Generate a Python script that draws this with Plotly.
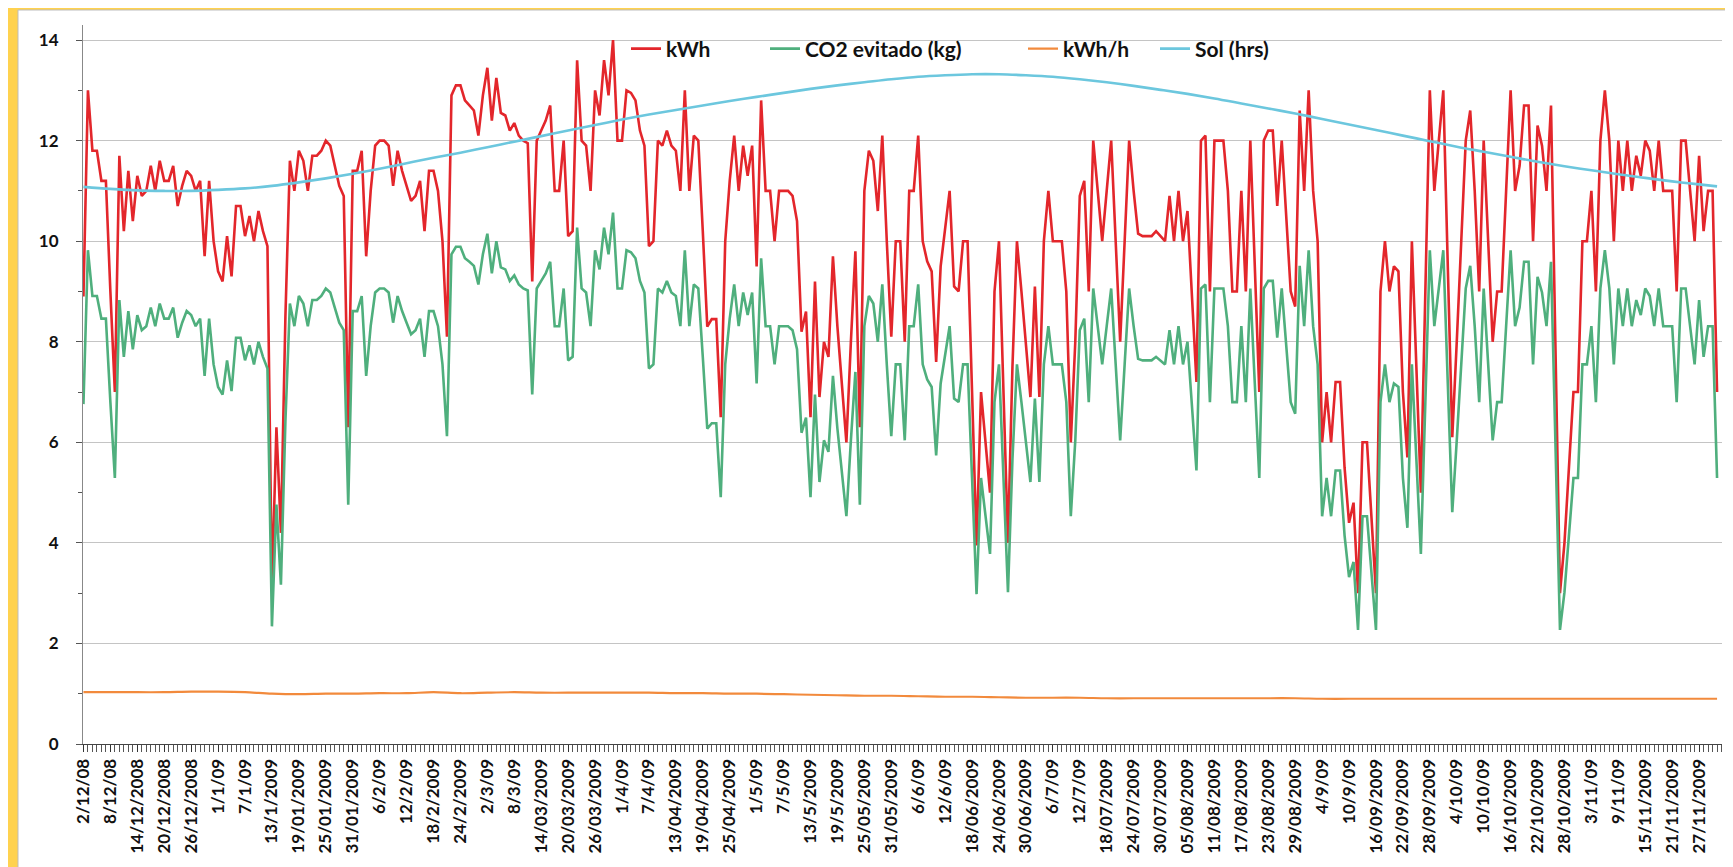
import plotly.graph_objects as go

# ---------------- data ----------------
tick_labels = [
    "2/12/08", "8/12/08", "14/12/2008", "20/12/2008", "26/12/2008", "1/1/09", "7/1/09",
    "13/1/2009", "19/01/2009", "25/01/2009", "31/01/2009", "6/2/09", "12/2/09", "18/2/2009",
    "24/2/2009", "2/3/09", "8/3/09", "14/03/2009", "20/03/2009", "26/03/2009", "1/4/09",
    "7/4/09", "13/04/2009", "19/04/2009", "25/04/2009", "1/5/09", "7/5/09", "13/5/2009",
    "19/5/2009", "25/05/2009", "31/05/2009", "6/6/09", "12/6/09", "18/06/2009", "24/06/2009",
    "30/06/2009", "6/7/09", "12/7/09", "18/07/2009", "24/07/2009", "30/07/2009", "05/08/2009",
    "11/08/2009", "17/08/2009", "23/08/2009", "29/08/2009", "4/9/09", "10/9/09", "16/09/2009",
    "22/09/2009", "28/09/2009", "4/10/09", "10/10/09", "16/10/2009", "22/10/2009",
    "28/10/2009", "3/11/09", "9/11/09", "15/11/2009", "21/11/2009", "27/11/2009",
]

kwh = [
    8.9, 13.0, 11.8, 11.8, 11.2, 11.2, 9.0, 7.0, 11.7, 10.2,
    11.4, 10.4, 11.3, 10.9, 11.0, 11.5, 11.0, 11.6, 11.2, 11.2,
    11.5, 10.7, 11.1, 11.4, 11.3, 11.0, 11.2, 9.7, 11.2, 10.0,
    9.4, 9.2, 10.1, 9.3, 10.7, 10.7, 10.1, 10.5, 10.0, 10.6,
    10.2, 9.9, 3.1, 6.3, 4.2, 8.5, 11.6, 11.0, 11.8, 11.6,
    11.0, 11.7, 11.7, 11.8, 12.0, 11.9, 11.5, 11.1, 10.9, 6.3,
    11.4, 11.4, 11.8, 9.7, 11.0, 11.9, 12.0, 12.0, 11.9, 11.1,
    11.8, 11.4, 11.1, 10.8, 10.9, 11.2, 10.2, 11.4, 11.4, 11.0,
    10.0, 8.1, 12.9, 13.1, 13.1, 12.8, 12.7, 12.6, 12.1, 12.9,
    13.45, 12.4, 13.25, 12.55, 12.5, 12.2, 12.35, 12.1, 12.0, 11.95,
    9.2, 12.0, 12.2, 12.4, 12.7, 11.0, 11.0, 12.0, 10.1, 10.2,
    13.6, 12.0, 11.9, 11.0, 13.0, 12.5, 13.6, 12.9, 14.0, 12.0,
    12.0, 13.0, 12.95, 12.8, 12.2, 11.9, 9.9, 10.0, 12.0, 11.9,
    12.2, 11.9, 11.8, 11.0, 13.0, 11.0, 12.1, 12.0, 10.2, 8.3,
    8.45, 8.45, 6.5, 10.0, 11.2, 12.1, 11.0, 11.9, 11.3, 11.9,
    9.5, 12.8, 11.0, 11.0, 10.0, 11.0, 11.0, 11.0, 10.9, 10.4,
    8.2, 8.6, 6.5, 9.2, 6.9, 8.0, 7.7, 9.7, 8.3, 7.2,
    6.0, 8.0, 9.8, 6.3, 11.0, 11.8, 11.6, 10.6, 12.1, 10.0,
    8.1, 10.0, 10.0, 8.0, 11.0, 11.0, 12.1, 10.0, 9.6, 9.4,
    7.6, 9.5, 10.2, 11.0, 9.1, 9.0, 10.0, 10.0, 7.0, 3.95,
    7.0, 6.0, 5.0, 9.0, 10.0, 7.0, 4.0, 7.5, 10.0, 9.0,
    8.0, 6.9, 9.1, 6.9, 10.0, 11.0, 10.0, 10.0, 10.0, 9.0,
    6.0, 8.0, 10.9, 11.2, 9.0, 12.0, 11.0, 10.0, 11.0, 12.0,
    10.0, 8.0, 10.0, 12.0, 11.0, 10.15, 10.1, 10.1, 10.1, 10.2,
    10.1, 10.0, 10.9, 10.0, 11.0, 10.0, 10.6, 9.0, 7.2, 12.0,
    12.1, 9.0, 12.0, 12.0, 12.0, 11.0, 9.0, 9.0, 11.0, 9.0,
    12.0, 9.5, 7.0, 12.0, 12.2, 12.2, 10.7, 12.0, 10.5, 9.0,
    8.7, 12.6, 11.0, 13.0, 11.0, 10.0, 6.0, 7.0, 6.0, 7.2,
    7.2, 5.5, 4.4, 4.8, 3.0, 6.0, 6.0, 4.5, 3.0, 9.0,
    10.0, 9.0, 9.5, 9.4, 7.0, 5.7, 10.0, 7.5, 5.0, 9.0,
    13.0, 11.0, 12.0, 13.0, 9.5, 6.1, 8.0, 10.0, 12.0, 12.6,
    11.0, 9.0, 12.0, 10.0, 8.0, 9.0, 9.0, 11.0, 13.0, 11.0,
    11.5, 12.7, 12.7, 10.0, 12.3, 11.9, 11.0, 12.7, 8.0, 3.0,
    4.0, 5.5, 7.0, 7.0, 10.0, 10.0, 11.0, 9.0, 12.0, 13.0,
    12.0, 10.0, 12.0, 11.0, 12.0, 11.0, 11.7, 11.3, 12.0, 11.8,
    11.0, 12.0, 11.0, 11.0, 11.0, 9.0, 12.0, 12.0, 11.0, 10.0,
    11.7, 10.2, 11.0, 11.0, 7.0,
]

co2 = [
    6.76, 9.82, 8.91, 8.91, 8.46, 8.46, 6.80, 5.29, 8.83, 7.70,
    8.61, 7.85, 8.53, 8.23, 8.31, 8.68, 8.31, 8.76, 8.46, 8.46,
    8.68, 8.08, 8.38, 8.61, 8.53, 8.31, 8.46, 7.32, 8.46, 7.55,
    7.10, 6.95, 7.63, 7.02, 8.08, 8.08, 7.63, 7.93, 7.55, 8.00,
    7.70, 7.47, 2.34, 4.76, 3.17, 6.42, 8.76, 8.31, 8.91, 8.76,
    8.31, 8.83, 8.83, 8.91, 9.06, 8.98, 8.68, 8.38, 8.23, 4.76,
    8.61, 8.61, 8.91, 7.32, 8.31, 8.98, 9.06, 9.06, 8.98, 8.38,
    8.91, 8.61, 8.38, 8.15, 8.23, 8.46, 7.70, 8.61, 8.61, 8.31,
    7.55, 6.12, 9.74, 9.89, 9.89, 9.66, 9.59, 9.51, 9.14, 9.74,
    10.15, 9.36, 10.00, 9.48, 9.44, 9.21, 9.32, 9.14, 9.06, 9.02,
    6.95, 9.06, 9.21, 9.36, 9.59, 8.31, 8.31, 9.06, 7.63, 7.70,
    10.27, 9.06, 8.98, 8.31, 9.82, 9.44, 10.27, 9.74, 10.57, 9.06,
    9.06, 9.82, 9.78, 9.66, 9.21, 8.98, 7.47, 7.55, 9.06, 8.98,
    9.21, 8.98, 8.91, 8.31, 9.82, 8.31, 9.14, 9.06, 7.70, 6.27,
    6.38, 6.38, 4.91, 7.55, 8.46, 9.14, 8.31, 8.98, 8.53, 8.98,
    7.17, 9.66, 8.31, 8.31, 7.55, 8.31, 8.31, 8.31, 8.23, 7.85,
    6.19, 6.49, 4.91, 6.95, 5.21, 6.04, 5.81, 7.32, 6.27, 5.44,
    4.53, 6.04, 7.40, 4.76, 8.31, 8.91, 8.76, 8.00, 9.14, 7.55,
    6.12, 7.55, 7.55, 6.04, 8.31, 8.31, 9.14, 7.55, 7.25, 7.10,
    5.74, 7.17, 7.70, 8.31, 6.87, 6.80, 7.55, 7.55, 5.29, 2.98,
    5.29, 4.53, 3.78, 6.80, 7.55, 5.29, 3.02, 5.66, 7.55, 6.80,
    6.04, 5.21, 6.87, 5.21, 7.55, 8.31, 7.55, 7.55, 7.55, 6.80,
    4.53, 6.04, 8.23, 8.46, 6.80, 9.06, 8.31, 7.55, 8.31, 9.06,
    7.55, 6.04, 7.55, 9.06, 8.31, 7.66, 7.63, 7.63, 7.63, 7.70,
    7.63, 7.55, 8.23, 7.55, 8.31, 7.55, 8.00, 6.80, 5.44, 9.06,
    9.14, 6.80, 9.06, 9.06, 9.06, 8.31, 6.80, 6.80, 8.31, 6.80,
    9.06, 7.17, 5.29, 9.06, 9.21, 9.21, 8.08, 9.06, 7.93, 6.80,
    6.57, 9.51, 8.31, 9.82, 8.31, 7.55, 4.53, 5.29, 4.53, 5.44,
    5.44, 4.15, 3.32, 3.62, 2.27, 4.53, 4.53, 3.40, 2.27, 6.80,
    7.55, 6.80, 7.17, 7.10, 5.29, 4.30, 7.55, 5.66, 3.78, 6.80,
    9.82, 8.31, 9.06, 9.82, 7.17, 4.61, 6.04, 7.55, 9.06, 9.51,
    8.31, 6.80, 9.06, 7.55, 6.04, 6.80, 6.80, 8.31, 9.82, 8.31,
    8.68, 9.59, 9.59, 7.55, 9.29, 8.98, 8.31, 9.59, 6.04, 2.27,
    3.02, 4.15, 5.29, 5.29, 7.55, 7.55, 8.31, 6.80, 9.06, 9.82,
    9.06, 7.55, 9.06, 8.31, 9.06, 8.31, 8.83, 8.53, 9.06, 8.91,
    8.31, 9.06, 8.31, 8.31, 8.31, 6.80, 9.06, 9.06, 8.31, 7.55,
    8.83, 7.70, 8.31, 8.31, 5.29,
]

# smooth series, read every 6 days (plus the last day)
smooth_days = [0, 6, 12, 18, 24, 30, 36, 42, 48, 54, 60, 66, 72, 78, 84, 90, 96, 102,
               108, 114, 120, 126, 132, 138, 144, 150, 156, 162, 168, 174, 180, 186,
               192, 198, 204, 210, 216, 222, 228, 234, 240, 246, 252, 258, 264, 270,
               276, 282, 288, 294, 300, 306, 312, 318, 324, 330, 336, 342, 348, 354,
               360, 364]

kwh_h = [1.03, 1.03, 1.03, 1.03, 1.04, 1.04, 1.03, 1.00, 0.99, 1.00, 1.00, 1.01,
         1.01, 1.03, 1.01, 1.02, 1.03, 1.02, 1.02, 1.02, 1.02, 1.02, 1.01, 1.01,
         1.00, 1.00, 0.99, 0.98, 0.97, 0.96, 0.96, 0.95, 0.94, 0.94, 0.93, 0.92,
         0.92, 0.92, 0.91, 0.91, 0.91, 0.91, 0.91, 0.91, 0.91, 0.91, 0.90, 0.90,
         0.90, 0.90, 0.90, 0.90, 0.90, 0.90, 0.90, 0.90, 0.90, 0.90, 0.90, 0.90,
         0.90, 0.90]

sol = [11.08, 11.04, 11.01, 11.00, 11.00, 11.02, 11.05, 11.10, 11.17, 11.25, 11.34,
       11.44, 11.55, 11.66, 11.76, 11.87, 11.98, 12.09, 12.20, 12.31, 12.42, 12.52,
       12.61, 12.70, 12.79, 12.87, 12.95, 13.03, 13.10, 13.16, 13.22, 13.27, 13.30,
       13.32, 13.32, 13.30, 13.27, 13.22, 13.16, 13.09, 13.01, 12.93, 12.84, 12.74,
       12.64, 12.54, 12.43, 12.32, 12.21, 12.10, 11.99, 11.88, 11.78, 11.68, 11.58,
       11.49, 11.41, 11.33, 11.26, 11.19, 11.13, 11.09]

# ---------------- style ----------------
RED = "#E3262B"
GREEN = "#4FAF7D"
ORANGE = "#F28A3C"
CYAN = "#6CC7DE"
YELLOW = "#FFD24F"
FONT = "Lato"

days = list(range(len(kwh)))
tick_days = list(range(0, 6 * len(tick_labels), 6))

fig = go.Figure()
fig.add_trace(go.Scatter(x=days, y=kwh, mode="lines", name="kWh",
                         line=dict(color=RED, width=2.6), legendwidth=94))
fig.add_trace(go.Scatter(x=days, y=co2, mode="lines", name="CO2 evitado (kg)",
                         line=dict(color=GREEN, width=2.6), legendwidth=213))
fig.add_trace(go.Scatter(x=smooth_days, y=kwh_h, mode="lines", name="kWh/h",
                         line=dict(color=ORANGE, width=2.2, shape="spline"), legendwidth=87))
fig.add_trace(go.Scatter(x=smooth_days, y=sol, mode="lines", name="Sol (hrs)",
                         line=dict(color=CYAN, width=2.6, shape="spline"), legendwidth=100))

W, H = 1733, 867
L, R, T, B = 75, 19, 17, 131
pw, ph = W - L - R, H - T - B

def px_x(p):
    return (p - L) / pw

def px_y(p):
    return (H - B - p) / ph

shapes = [
    # white chart panel on the yellow page
    dict(type="rect", xref="paper", yref="paper", x0=px_x(10), x1=px_x(1722),
         y0=px_y(875), y1=px_y(2), fillcolor="white",
         line=dict(color="#BDBDBD", width=1), layer="below"),
    # legend box hides the top gridline
    dict(type="rect", xref="paper", yref="y", x0=px_x(570), x1=px_x(1374),
         y0=13.93, y1=14.07, fillcolor="white", line=dict(width=0), layer="between"),
]

fig.update_layout(
    width=W, height=H,
    margin=dict(l=L, r=R, t=T, b=B, pad=0),
    paper_bgcolor=YELLOW,
    plot_bgcolor="white",
    shapes=shapes,
    showlegend=True,
    legend=dict(orientation="h", x=px_x(618), y=px_y(41), xanchor="left", yanchor="middle",
                bgcolor="rgba(0,0,0,0)", borderwidth=0, itemwidth=30,
                font=dict(family=FONT, size=21, color="#111111", weight=700)),
    xaxis=dict(
        range=[-0.1, 365.1], tickmode="array", tickvals=tick_days, ticktext=tick_labels,
        tickangle=-90, ticks="outside", ticklen=7, tickcolor="#333", tickwidth=1,
        showline=True, linecolor="#444", linewidth=1, showgrid=False, zeroline=False,
        tickfont=dict(family=FONT, size=17, color="#111111", weight=700),
        minor=dict(tickmode="linear", tick0=0, dtick=1, ticks="outside", ticklen=7,
                   tickcolor="#555", tickwidth=1, showgrid=False),
    ),
    yaxis=dict(
        range=[0, 14.3], tickmode="array", tickvals=[0, 2, 4, 6, 8, 10, 12, 14],
        ticks="outside", ticklen=6, tickcolor="#555", showline=True, linecolor="#888",
        linewidth=1, showgrid=True, gridcolor="#C4C4C4", gridwidth=1, zeroline=False,
        tickfont=dict(family=FONT, size=17, color="#111111", weight=700),
        ticklabelstandoff=14,
        minor=dict(tickmode="linear", tick0=0, dtick=1, ticks="outside", ticklen=4,
                   tickcolor="#555", showgrid=False),
    ),
)

fig.write_html("out.html")
